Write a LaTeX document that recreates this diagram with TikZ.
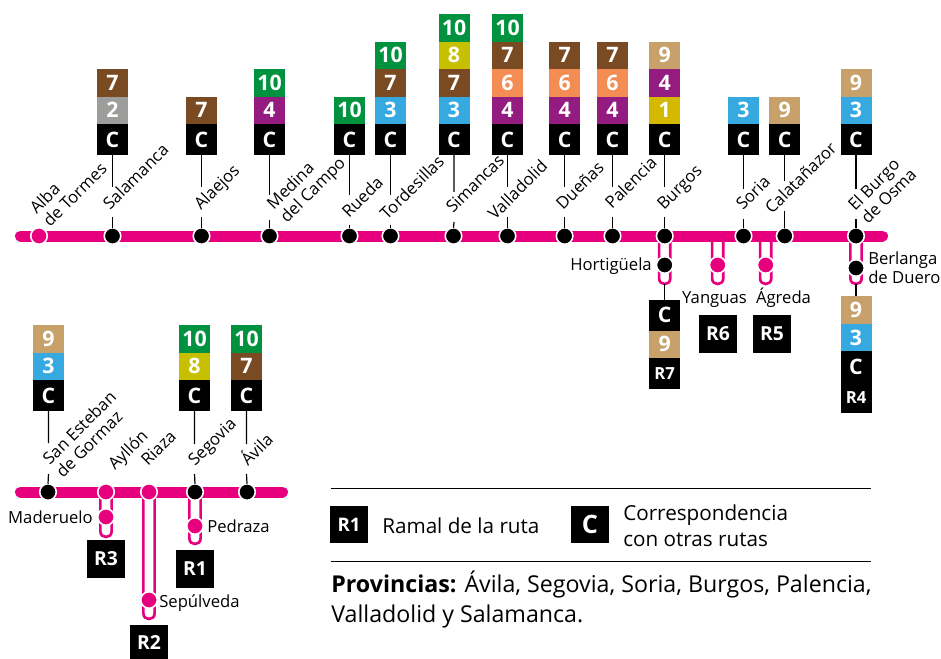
\documentclass[tikz,border=0pt]{standalone}
\usepackage{fontspec}
\setmainfont{Open Sans}
\usetikzlibrary{positioning}
\definecolor{rosa}{RGB}{230, 0, 126}
\definecolor{r1}{RGB}{212, 185, 0}
\definecolor{r2}{RGB}{157, 157, 156}
\definecolor{r3}{RGB}{54, 169, 225}
\definecolor{r4}{RGB}{148, 27, 128}
\definecolor{r6}{RGB}{243, 141, 84}
\definecolor{r7}{RGB}{122, 75, 34}
\definecolor{r8}{RGB}{198, 192, 0}
\definecolor{r9}{RGB}{200, 160, 106}
\definecolor{r10}{RGB}{0, 146, 63}

\begin{document}
\begin{tikzpicture}[
            x=0.75pt, y=-0.75pt,
            linea/.style={rosa, line width=8.25pt, line cap=round},
            ramal/.style={rosa, line width=2pt},
            leader/.style={black, line width=0.9pt},
            regla/.style={black, line width=0.75pt},
            parada/.style={circle, fill=black, draw=white, line width=1.2pt, minimum size=12.4pt, inner sep=0pt, outer sep=0pt},
            paradar/.style={parada, fill=rosa},
            ruta/.style={rectangle, minimum width=23.25pt, minimum height=20.6pt, inner sep=0pt, outer sep=0pt, text=white, font=\bfseries\fontsize{16}{16}\selectfont},
            corr/.style={ruta, fill=black, minimum height=23.25pt},
            rcola/.style={ruta, fill=black, minimum height=23.25pt, font=\bfseries\fontsize{12.5}{12.5}\selectfont},
            rcaja/.style={rectangle, fill=black, minimum size=28.5pt, inner sep=0pt, outer sep=0pt, text=white, font=\bfseries\fontsize{14.5}{14.5}\selectfont},
            etq/.style={font=\fontsize{12.5}{14}\selectfont, inner sep=0pt, align=left},
            rot/.style={etq, rotate=45, anchor=base west},
            leyenda/.style={font=\fontsize{15.5}{19.5}\selectfont, inner sep=0pt, align=left, anchor=base west}
        ]
            \useasboundingbox (0,0) rectangle (941,659);

            % LINEA 1
            \coordinate (lineaA) at (20.5,236);
            \coordinate (lineaB) at (882.5,236);
            \draw[linea] (lineaA) -- (lineaB);

            % LINEA 2
            \coordinate (lineaC) at (20.5,492);
            \coordinate (lineaD) at (282.5,492);
            \draw[linea] (lineaC) -- (lineaD);

            % Ramales
            \coordinate (burgosIni) at (664.7,236);
            \coordinate (burgosFin) at (664.7,284);
            \coordinate (yanguasIni) at (717.7,236);
            \coordinate (yanguasFin) at (717.7,284);
            \coordinate (agredaIni) at (765.7,236);
            \coordinate (agredaFin) at (765.7,284);
            \coordinate (osmaIni) at (856,236);
            \coordinate (osmaFin) at (856,284);
            \coordinate (madIni) at (106,492);
            \coordinate (madFin) at (106,537);
            \coordinate (sepIni) at (149,492);
            \coordinate (sepFin) at (149,619);
            \coordinate (pedIni) at (195,492);
            \coordinate (pedFin) at (195,544);
            \foreach \ini/\fin in {burgosIni/burgosFin, yanguasIni/yanguasFin, agredaIni/agredaFin, osmaIni/osmaFin, madIni/madFin, sepIni/sepFin, pedIni/pedFin}
                \draw[ramal] ([xshift=-4.2pt]\ini) -- ([xshift=-4.2pt,yshift=4.2pt]\fin)
                    .. controls ([xshift=-4.2pt,yshift=-1.4pt]\fin) and ([xshift=4.2pt,yshift=-1.4pt]\fin)
                    .. ([xshift=4.2pt,yshift=4.2pt]\fin) -- ([xshift=4.2pt]\ini);

            % Paradas
            \node[paradar] (alba) at (39,236) {};
            \node[parada] (salamanca) at (112.5,236) {};
            \node[parada] (alaejos) at (201.5,236) {};
            \node[parada] (medina) at (269.5,236) {};
            \node[parada] (rueda) at (349.5,236) {};
            \node[parada] (tordesillas) at (390.5,236) {};
            \node[parada] (simancas) at (453.5,236) {};
            \node[parada] (valladolid) at (507.5,236) {};
            \node[parada] (duenas) at (564.6,236) {};
            \node[parada] (palencia) at (612.5,236) {};
            \node[parada] (burgos) at (664.7,236) {};
            \node[parada] (soria) at (743.5,236) {};
            \node[parada] (calatanazor) at (784.7,236) {};
            \node[parada] (burgo) at (856,236) {};
            \node[parada] (hortiguela) at (664.7,265) {};
            \node[paradar] (yanguas) at (717.7,265) {};
            \node[paradar] (agreda) at (765.7,265) {};
            \node[parada] (berlanga) at (856,268) {};
            \node[parada] (esteban) at (48,492) {};
            \node[paradar] (ayllon) at (106,492) {};
            \node[paradar] (riaza) at (149,492) {};
            \node[parada] (segovia) at (195,492) {};
            \node[parada] (avila) at (247,492) {};
            \node[paradar] (maderuelo) at (106,517) {};
            \node[paradar] (sepulveda) at (149,600) {};
            \node[paradar] (pedraza) at (195,526) {};

            % Correspondencias
            \node[corr] (salC) at (112.5,139.5) {C};
            \node[ruta, fill=r2, above=0pt of salC] (sal2) {2};
            \node[ruta, fill=r7, above=0pt of sal2] (sal7) {7};
            \node[corr] (alaC) at (201.5,139.5) {C};
            \node[ruta, fill=r7, above=0pt of alaC] (ala7) {7};
            \node[corr] (medC) at (269.5,139.5) {C};
            \node[ruta, fill=r4, above=0pt of medC] (med4) {4};
            \node[ruta, fill=r10, above=0pt of med4] (med10) {10};
            \node[corr] (rueC) at (349.5,139.5) {C};
            \node[ruta, fill=r10, above=0pt of rueC] (rue10) {10};
            \node[corr] (torC) at (390.5,139.5) {C};
            \node[ruta, fill=r3, above=0pt of torC] (tor3) {3};
            \node[ruta, fill=r7, above=0pt of tor3] (tor7) {7};
            \node[ruta, fill=r10, above=0pt of tor7] (tor10) {10};
            \node[corr] (simC) at (454,139.5) {C};
            \node[ruta, fill=r3, above=0pt of simC] (sim3) {3};
            \node[ruta, fill=r7, above=0pt of sim3] (sim7) {7};
            \node[ruta, fill=r8, above=0pt of sim7] (sim8) {8};
            \node[ruta, fill=r10, above=0pt of sim8] (sim10) {10};
            \node[corr] (valC) at (507.5,139.5) {C};
            \node[ruta, fill=r4, above=0pt of valC] (val4) {4};
            \node[ruta, fill=r6, above=0pt of val4] (val6) {6};
            \node[ruta, fill=r7, above=0pt of val6] (val7) {7};
            \node[ruta, fill=r10, above=0pt of val7] (val10) {10};
            \node[corr] (dueC) at (564.6,139.5) {C};
            \node[ruta, fill=r4, above=0pt of dueC] (due4) {4};
            \node[ruta, fill=r6, above=0pt of due4] (due6) {6};
            \node[ruta, fill=r7, above=0pt of due6] (due7) {7};
            \node[corr] (palC) at (612.5,139.5) {C};
            \node[ruta, fill=r4, above=0pt of palC] (pal4) {4};
            \node[ruta, fill=r6, above=0pt of pal4] (pal6) {6};
            \node[ruta, fill=r7, above=0pt of pal6] (pal7) {7};
            \node[corr] (burC) at (664.7,139.5) {C};
            \node[ruta, fill=r1, above=0pt of burC] (bur1) {1};
            \node[ruta, fill=r4, above=0pt of bur1] (bur4) {4};
            \node[ruta, fill=r9, above=0pt of bur4] (bur9) {9};
            \node[corr] (sorC) at (743.5,139.5) {C};
            \node[ruta, fill=r3, above=0pt of sorC] (sor3) {3};
            \node[corr] (calC) at (784.7,139.5) {C};
            \node[ruta, fill=r9, above=0pt of calC] (cal9) {9};
            \node[corr] (osmC) at (856,139.5) {C};
            \node[ruta, fill=r3, above=0pt of osmC] (osm3) {3};
            \node[ruta, fill=r9, above=0pt of osm3] (osm9) {9};

            \node[corr] (estC) at (48.5,395.5) {C};
            \node[ruta, fill=r3, above=0pt of estC] (est3) {3};
            \node[ruta, fill=r9, above=0pt of est3] (est9) {9};
            \node[corr] (segC) at (194.5,395.5) {C};
            \node[ruta, fill=r8, above=0pt of segC] (seg8) {8};
            \node[ruta, fill=r10, above=0pt of seg8] (seg10) {10};
            \node[corr] (aviC) at (246.5,395.5) {C};
            \node[ruta, fill=r7, above=0pt of aviC] (avi7) {7};
            \node[ruta, fill=r10, above=0pt of avi7] (avi10) {10};

            % Columnas de ramales
            \node[corr] (horC) at (664.7,315) {C};
            \node[ruta, fill=r9, below=0pt of horC] (hor9) {9};
            \node[rcola, below=0pt of hor9] (r7) {R7};
            \node[ruta, fill=r9] (ber9) at (856,310) {9};
            \node[ruta, fill=r3, below=0pt of ber9] (ber3) {3};
            \node[corr, below=0pt of ber3] (berC) {C};
            \node[rcola, below=0pt of berC] (r4) {R4};
            \node[rcaja] (r6) at (718,334) {R6};
            \node[rcaja] (r5) at (772,334) {R5};
            \node[rcaja] (r3) at (106,559) {R3};
            \node[rcaja] (r1) at (195,569) {R1};
            \node[rcaja, minimum height=25.5pt] (r2) at (149,642) {R2};

            % Hilos
            \draw[leader] (salC.south) -- ++(0,32) ++(0,30) -- (salamanca.north);
            \draw[leader] (alaC.south) -- ++(0,32) ++(0,30) -- (alaejos.north);
            \draw[leader] (medC.south) -- ++(0,40) ++(0,25) -- (medina.north);
            \draw[leader] (rueC.south) -- ++(0,40) ++(0,30) -- (rueda.north);
            \draw[leader] (torC.south) -- ++(0,40) ++(0,30) -- (tordesillas.north);
            \draw[leader] (simC.south) -- ++(0,37) ++(0,30) -- (simancas.north);
            \draw[leader] (valC.south) -- ++(0,32) ++(0,30) -- (valladolid.north);
            \draw[leader] (dueC.south) -- ++(0,32) ++(0,30) -- (duenas.north);
            \draw[leader] (palC.south) -- ++(0,32) ++(0,30) -- (palencia.north);
            \draw[leader] (burC.south) -- ++(0,32) ++(0,30) -- (burgos.north);
            \draw[leader] (sorC.south) -- ++(0,34) ++(0,30) -- (soria.north);
            \draw[leader] (calC.south) -- ++(0,26) ++(0,30) -- (calatanazor.north);
            \draw[leader] (osmC.south) -- ++(0,34) ++(0,30) -- (burgo.north);
            \draw[leader] (estC.south) -- ++(0,32) ++(0,31) -- (esteban.north);
            \draw[leader] (segC.south) -- ++(0,33) ++(0,30) -- (segovia.north);
            \draw[leader] (aviC.south) -- ++(0,33) ++(0,30) -- (avila.north);
            \draw[leader] (burgosFin) -- (horC.north);
            \draw[leader] (osmaFin) -- (ber9.north);

            % Nombres
            \node[rot] (albaT) at (50,228) {Alba\\de Tormes};
            \node[rot] (salamancaT) at (110,211) {Salamanca};
            \node[rot] (alaejosT) at (201,211) {Alaejos};
            \node[rot] (medinaT) at (287,224) {Medina\\del Campo};
            \node[rot] (ruedaT) at (349,219) {Rueda};
            \node[rot] (tordesillasT) at (387,221) {Tordesillas};
            \node[rot] (simancasT) at (453,214) {Simancas};
            \node[rot] (valladolidT) at (495,221) {Valladolid};
            \node[rot] (duenasT) at (563,211) {Dueñas};
            \node[rot] (palenciaT) at (612,210) {Palencia};
            \node[rot] (burgosT) at (664,211) {Burgos};
            \node[rot] (soriaT) at (743,211) {Soria};
            \node[rot] (calatanazorT) at (772,215) {Calatañazor};
            \node[rot] (burgoT) at (868,225) {El Burgo\\de Osma};
            \node[rot] (estebanT) at (63,479) {San Esteban\\de Gormaz};
            \node[rot] (ayllonT) at (115,471) {Ayllón};
            \node[rot] (riazaT) at (148,467) {Riaza};
            \node[rot] (segoviaT) at (195,467) {Segovia};
            \node[rot] (avilaT) at (248,467) {Ávila};
            \node[etq, anchor=base east] (hortiguelaT) at (652,270) {Hortigüela};
            \node[etq, anchor=base] (yanguasT) at (714.5,303) {Yanguas};
            \node[etq, anchor=base] (agredaT) at (783.5,303) {Ágreda};
            \node[etq, anchor=base west] (berlangaT) at (868,283) {Berlanga\\de Duero};
            \node[etq, anchor=base east] (maderueloT) at (93,523) {Maderuelo};
            \node[etq, anchor=base west] (sepulvedaT) at (159,607) {Sepúlveda};
            \node[etq, anchor=base west] (pedrazaT) at (207,532) {Pedraza};

            % Leyenda
            \coordinate (reglaA) at (331,488);
            \coordinate (reglaB) at (871,488);
            \coordinate (reglaC) at (331,561);
            \coordinate (reglaD) at (871,561);
            \draw[regla] (reglaA) -- (reglaB);
            \draw[regla] (reglaC) -- (reglaD);
            \node[rcaja, minimum size=28pt, font=\bfseries\fontsize{14}{14}\selectfont] (leyR) at (349,524.5) {R1};
            \node[leyenda] (leyRT) at (382,533) {Ramal de la ruta};
            \node[rcaja, minimum size=28pt, font=\bfseries\fontsize{19}{19}\selectfont] (leyC) at (590,524.5) {C};
            \node[leyenda] (leyCT) at (623,546) {Correspondencia\\con otras rutas};
            \node[leyenda, font=\fontsize{17.4}{22.5}\selectfont] (provincias) at (331,622) {\textbf{Provincias:} Ávila, Segovia, Soria, Burgos, Palencia,\\Valladolid y Salamanca.};
        \end{tikzpicture}
\end{document}
